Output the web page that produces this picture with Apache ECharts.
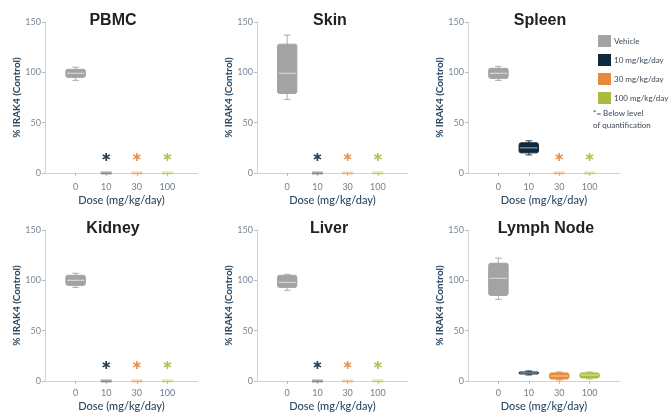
<!DOCTYPE html>
<html>
<head>
<meta charset="utf-8">
<script src="https://cdn.jsdelivr.net/npm/echarts@6/dist/echarts.min.js"></script>
<style>html,body{margin:0;padding:0;background:#fff}#c{width:669px;height:414px}</style>
</head>
<body>
<div id="c"></div>
<script>
// ---- data ----
const panels = ['PBMC', 'Skin', 'Spleen', 'Kidney', 'Liver', 'Lymph Node'];
const doses = ['0', '10', '30', '100'];
const groups = ['Vehicle', '10 mg/kg/day', '30 mg/kg/day', '100 mg/kg/day'];
const yTicks = [0, 50, 100, 150];
// box stats per panel: [min, Q1, median, Q3, max]; null = below level of quantification
const vehicleStats = [[92, 95, 99, 103, 105], [73, 79, 99, 128, 137], [92, 94, 99, 104, 106], [93, 95, 100, 105, 107], [90, 93, 98, 105, 106], [81, 85, 102, 117, 122]];
const dose10Stats = [null, null, [18, 20, 25, 30, 32], null, null, [6, 7, 8, 9, 10]];
const dose30Stats = [null, null, null, null, null, [1, 2, 5, 8, 9]];
const dose100Stats = [null, null, null, null, null, [2, 3, 6, 8, 9]];
const blqLevel = 0;      // drawn as a flat mark on the baseline
const blqStarLevel = 16; // asterisk height
const noteLines = ['*= Below level', 'of quantification'];

// ---- styling ----
const groupColors = ['#a3a3a3', '#10293d', '#e6893a', '#adbb3c'];
const blqColors = ['rgba(163,163,163,0.55)', 'rgba(16,41,61,0.5)', 'rgba(230,137,58,0.5)', 'rgba(173,187,60,0.5)'];
const statsByGroup = [vehicleStats, dose10Stats, dose30Stats, dose100Stats];
const gridPos = [
  {left: 45, top: 22, width: 153, height: 151},
  {left: 257, top: 22, width: 151, height: 151},
  {left: 468, top: 22, width: 152, height: 151},
  {left: 45, top: 230, width: 153, height: 151},
  {left: 257, top: 230, width: 151, height: 151},
  {left: 468, top: 230, width: 152, height: 151}
];
const titlePos = [[113, 21], [330, 21], [540, 21], [113, 229], [329, 229], [546, 229]];
const starPath = 'path://M4,0L6,0L6,10L4,10Z M0.17,3.37L1.17,1.63L9.83,6.63L8.83,8.37Z M1.17,8.37L0.17,6.63L8.83,1.63L9.83,3.37Z';
const FONT = 'Lato, "Noto Sans", sans-serif';

function renderBox(params, api) {
  const x = api.value(0);
  const pMin = api.coord([x, api.value(1)]);
  const pQ1 = api.coord([x, api.value(2)]);
  const pMed = api.coord([x, api.value(3)]);
  const pQ3 = api.coord([x, api.value(4)]);
  const pMax = api.coord([x, api.value(5)]);
  const band = api.size([1, 0])[0];
  const bw = band * 0.64;
  const cap = band * 0.22;
  const color = api.visual('color');
  const cx = pMed[0];
  const wStroke = {stroke: color, lineWidth: 1.2, opacity: 0.75};
  return {
    type: 'group',
    children: [
      {type: 'line', shape: {x1: cx, y1: pMin[1], x2: cx, y2: pMax[1]}, style: wStroke},
      {type: 'line', shape: {x1: cx - cap / 2, y1: pMin[1], x2: cx + cap / 2, y2: pMin[1]}, style: wStroke},
      {type: 'line', shape: {x1: cx - cap / 2, y1: pMax[1], x2: cx + cap / 2, y2: pMax[1]}, style: wStroke},
      {type: 'rect', shape: {x: cx - bw / 2, y: pQ3[1], width: bw, height: Math.max(pQ1[1] - pQ3[1], 1), r: 2},
        style: {fill: color, stroke: color, lineWidth: 1}},
      {type: 'line', shape: {x1: cx - bw / 2 + 1, y1: pMed[1], x2: cx + bw / 2 - 1, y2: pMed[1]},
        style: {stroke: 'rgba(255,255,255,0.55)', lineWidth: 1.2}}
    ]
  };
}

const grid = [], xAxis = [], yAxis = [], series = [], graphic = [];
panels.forEach((name, p) => {
  grid.push(Object.assign({containLabel: false}, gridPos[p]));
  xAxis.push({
    type: 'value', gridIndex: p, min: 0, max: doses.length + 1, interval: 1,
    name: 'Dose (mg/kg/day)', nameLocation: 'middle', nameGap: p < 3 ? 22 : 20,
    nameTextStyle: {fontSize: 11, color: '#2b4a64', fontFamily: FONT, fontWeight: 500},
    axisLine: {lineStyle: {color: '#d2d2d2', width: 1}},
    axisTick: {show: true, length: 3, lineStyle: {color: '#bcbcbc'}, customValues: doses.map((d, i) => i + 1)},
    axisLabel: {fontSize: 9, color: '#6f7f8f', margin: p < 3 ? 10 : 8, fontFamily: FONT,
      customValues: doses.map((d, i) => i + 1),
      formatter: v => doses[v - 1] !== undefined ? doses[v - 1] : ''},
    splitLine: {show: false}
  });
  yAxis.push({
    type: 'value', gridIndex: p, min: yTicks[0], max: yTicks[yTicks.length - 1], interval: 50,
    name: '% IRAK4 (Control)', nameLocation: 'middle', nameGap: 23,
    nameTextStyle: {fontSize: 10, color: '#2b4a64', fontWeight: 'bold', fontFamily: FONT},
    axisLine: {show: true, lineStyle: {color: '#d2d2d2', width: 1}},
    axisTick: {show: true, length: 3, lineStyle: {color: '#bcbcbc'}},
    axisLabel: {fontSize: 9, color: '#7a8896', margin: 4, fontFamily: FONT},
    splitLine: {show: false}
  });
  statsByGroup.forEach((statsArr, g) => {
    const s = statsArr[p];
    if (s) {
      series.push({
        type: 'custom', name: groups[g], xAxisIndex: p, yAxisIndex: p,
        itemStyle: {color: groupColors[g]},
        renderItem: renderBox,
        encode: {x: 0, y: [1, 2, 3, 4, 5]},
        data: [[g + 1].concat(s)]
      });
    } else {
      series.push({
        type: 'scatter', name: groups[g], xAxisIndex: p, yAxisIndex: p,
        symbol: 'rect', symbolSize: [11, 3],
        itemStyle: {color: blqColors[g]},
        data: [[g + 1, blqLevel]], z: 3
      });
      series.push({
        type: 'scatter', name: groups[g], xAxisIndex: p, yAxisIndex: p,
        symbol: starPath, symbolSize: 8,
        itemStyle: {color: groupColors[g], opacity: 0.9},
        data: [[g + 1, blqStarLevel]], z: 3
      });
    }
  });
  graphic.push({
    type: 'text', x: titlePos[p][0], y: titlePos[p][1],
    style: {text: name, fill: '#222', font: 'bold 16px "Liberation Sans", Arial, sans-serif',
      textAlign: 'center', textVerticalAlign: 'middle'}
  });
});
noteLines.forEach((t, i) => {
  graphic.push({
    type: 'text', x: 593, y: 113 + i * 12,
    style: {text: t, fill: '#3b4856', font: '8px ' + FONT, textAlign: 'left', textVerticalAlign: 'middle'}
  });
});

const chart = echarts.init(document.getElementById('c'), null, {renderer: 'canvas'});
chart.setOption({
  animation: false,
  backgroundColor: '#fff',
  grid, xAxis, yAxis, series, graphic,
  legend: {
    data: groups.map((g, i) => ({name: g, itemStyle: {color: groupColors[i], opacity: 1}})),
    orient: 'vertical', left: 593, top: 30,
    icon: 'rect', itemWidth: 13, itemHeight: 12, itemGap: 7,
    textStyle: {fontSize: 8, color: '#3b4856', fontFamily: FONT, padding: [0, 0, 0, -2]},
    selectedMode: false
  },
  tooltip: {show: false}
});
</script>
</body>
</html>
